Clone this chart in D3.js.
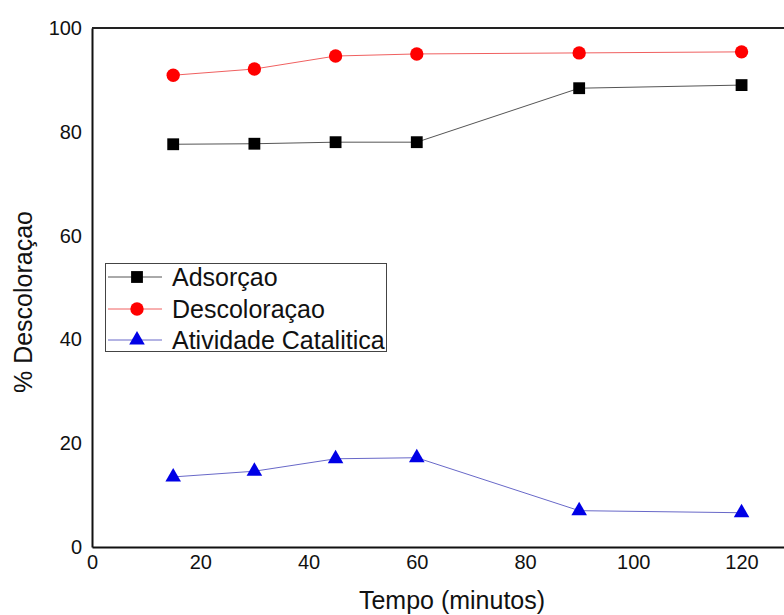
<!DOCTYPE html>
<html>
<head>
<meta charset="utf-8">
<script src="https://cdn.jsdelivr.net/npm/d3@7"></script>
<style>
  body { margin: 0; background: #fff; }
  svg { font-family: "Liberation Sans", Arial, sans-serif; }
</style>
</head>
<body>
<script>
// dados
var tempo = [15, 30, 45, 60, 90, 120];
var adsorcao = [77.6, 77.7, 78.0, 78.0, 88.4, 89.0];
var descoloracao = [90.9, 92.1, 94.6, 95.0, 95.2, 95.4];
var atividade = [13.5, 14.6, 17.0, 17.2, 7.0, 6.6];
var xTicks = [0, 20, 40, 60, 80, 100, 120];
var yTicks = [0, 20, 40, 60, 80, 100];

var width = 784, height = 615;
var margin = { top: 28, left: 92, bottom: 68 };

var svg = d3.select("body").append("svg")
    .attr("width", width)
    .attr("height", height);

var x = d3.scaleLinear().domain([0, 130]).range([margin.left, margin.left + 130 * 5.413]);
var y = d3.scaleLinear().domain([0, 100]).range([height - margin.bottom, margin.top]);

/* eixos sem marcas de divisao, so os numeros */
var xAxis = svg.append("g")
    .attr("transform", "translate(0," + y(0) + ")")
    .call(d3.axisBottom(x).tickValues(xTicks).tickSize(0).tickPadding(8));
var yAxis = svg.append("g")
    .attr("transform", "translate(" + x(0) + ",0)")
    .call(d3.axisLeft(y).tickValues(yTicks).tickSize(0).tickPadding(10));

[xAxis, yAxis].forEach(function(a) {
    a.select(".domain").attr("stroke", "#111").attr("stroke-width", 2);
    a.selectAll("text").attr("font-size", 20).attr("fill", "#111")
        .attr("font-family", "Liberation Sans, Arial, sans-serif");
});

// linha de cima da moldura
svg.append("line")
    .attr("x1", x(0)).attr("x2", width)
    .attr("y1", y(100)).attr("y2", y(100))
    .attr("stroke", "#222").attr("stroke-width", 2);

svg.append("text")
    .attr("x", 452).attr("y", 609)
    .attr("text-anchor", "middle")
    .attr("font-size", 25).attr("fill", "#111")
    .text("Tempo (minutos)");

svg.append("text")
    .attr("transform", "translate(32,302) rotate(-90)")
    .attr("text-anchor", "middle")
    .attr("font-size", 25).attr("fill", "#111")
    .text("% Descoloraçao");

var series = [
    { name: "Adsorçao", values: adsorcao, color: "#000", line: "#555", shape: d3.symbolSquare, size: 140 },
    { name: "Descoloraçao", values: descoloracao, color: "#f00", line: "#f06060", shape: d3.symbolCircle, size: 140 },
    { name: "Atividade Catalitica", values: atividade, color: "#0000e6", line: "#6868c8", shape: d3.symbolTriangle, size: 105 }
];

var line = d3.line()
    .x(function(d) { return x(d[0]); })
    .y(function(d) { return y(d[1]); });

series.forEach(function(s) {
    var pts = tempo.map(function(t, i) { return [t, s.values[i]]; });
    svg.append("path")
        .datum(pts)
        .attr("d", line)
        .attr("fill", "none")
        .attr("stroke", s.line)
        .attr("stroke-width", 1);
    svg.selectAll(null)
        .data(pts)
        .enter().append("path")
        .attr("transform", function(d) { return "translate(" + x(d[0]) + "," + y(d[1]) + ")"; })
        .attr("d", d3.symbol().type(s.shape).size(s.size))
        .attr("fill", s.color);
});

/* legenda */
var legend = svg.append("g");
legend.append("rect")
    .attr("x", 105.5).attr("y", 263.5)
    .attr("width", 281).attr("height", 88)
    .attr("fill", "#fff").attr("stroke", "#444").attr("stroke-width", 1);

var rows = [277, 309, 340];
series.forEach(function(s, i) {
    var g = legend.append("g").attr("transform", "translate(0," + rows[i] + ")");
    g.append("line")
        .attr("x1", 108).attr("x2", 162)
        .attr("stroke", s.line).attr("stroke-width", 1);
    g.append("path")
        .attr("transform", "translate(137,0)")
        .attr("d", d3.symbol().type(s.shape).size(s.size))
        .attr("fill", s.color);
    g.append("text")
        .attr("x", 172).attr("dy", "0.35em")
        .attr("font-size", 25).attr("fill", "#111")
        .text(s.name);
});
</script>
</body>
</html>
